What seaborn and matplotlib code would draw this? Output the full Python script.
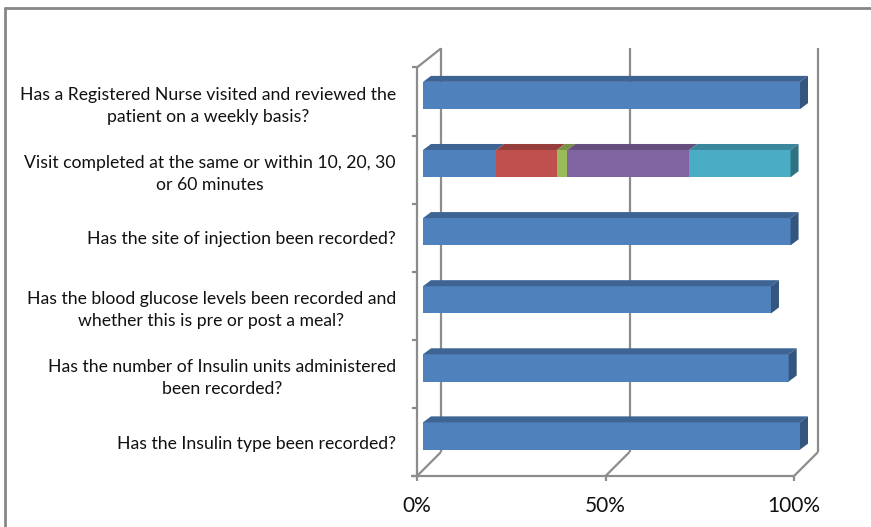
import numpy as np
import pandas as pd
import matplotlib
matplotlib.use("Agg")
import matplotlib.pyplot as plt
from matplotlib.patches import Polygon
from matplotlib.lines import Line2D
import seaborn as sns

questions = [
    "Has a Registered Nurse visited and reviewed the\npatient on a weekly basis?",
    "Visit completed at the same or within 10, 20, 30\nor 60 minutes",
    "Has the site of injection been recorded?",
    "Has the blood glucose levels been recorded and\nwhether this is pre or post a meal?",
    "Has the number of Insulin units administered\nbeen recorded?",
    "Has the Insulin type been recorded?",
]
series = ["Series 1", "Series 2", "Series 3", "Series 4", "Series 5"]
s1 = [100, 19.4, 97.5, 92.3, 97.0, 100]
s2 = [0, 16.1, 0, 0, 0, 0]
s3 = [0, 2.8, 0, 0, 0, 0]
s4 = [0, 32.3, 0, 0, 0, 0]
s5 = [0, 26.9, 0, 0, 0, 0]
x_ticks = [0, 50, 100]
x_tick_labels = ["0%", "50%", "100%"]

front_colors = ["#4F81BD", "#C0504D", "#9BBB59", "#8064A2", "#4BACC6"]
top_colors = ["#3D6493", "#963E3C", "#789146", "#634E7E", "#3A869A"]
side_colors = ["#34557D", "#7F3533", "#667B3B", "#54426B", "#317282"]
grid_color = "#8C8C8C"
text_color = "#111111"

df = pd.DataFrame({"question": questions, "Series 1": s1, "Series 2": s2,
                   "Series 3": s3, "Series 4": s4, "Series 5": s5})
cum = df[series].cumsum(axis=1)

sns.set_style("white")
plt.rcParams['font.family'] = ['Lato', 'DejaVu Sans']

W, H = 871, 527
fig = plt.figure(figsize=(W / 100, H / 100), dpi=100)
fig.patch.set_facecolor("white")

# pixel scale of the data coordinates
px_x = 3.77      # pixels per percent
px_y = 68.1      # pixels per category
x0_px = 423      # 0% of bar plane
y0_px = 95.5     # first bar centre
ax_left = 400
ax = fig.add_axes([ax_left / W, 0, (W - ax_left) / W, 1])

# stacked bars: cumulative totals, largest first
for i in range(len(series) - 1, -1, -1):
    sns.barplot(x=cum[series[i]], y=df["question"], orient="h", color=front_colors[i],
                saturation=1, width=0.4, ax=ax, zorder=2, linewidth=0, edgecolor="none")

ax.set_xlim((ax_left - x0_px) / px_x, (W - x0_px) / px_x)
ax.set_ylim((H - y0_px) / px_y, (0 - y0_px) / px_y)

# 3d geometry
DX, DY = 24 / px_x, -24 / px_y      # full depth of the floor
F = 0.25                            # depth of bar front face
BX, BY = 8 / px_x, -6 / px_y        # depth of the bars
fx, fy = -F * DX, -F * DY
n = len(questions)
y_top_f = -0.5 + fy
y_bot_f = n - 0.5 + fy
y_top_b = y_top_f - 19 / px_y
y_bot_b = y_bot_f + DY
gl = dict(color=grid_color, lw=1.6, zorder=1, solid_capstyle="butt")

# back wall verticals and floor diagonals
for t in x_ticks:
    ax.plot([t + fx + DX, t + fx + DX], [y_bot_b, y_top_b], **gl)
    ax.plot([t + fx, t + fx + DX], [y_bot_f, y_bot_b], **gl)
    ax.plot([t + fx, t + fx], [y_bot_f, y_bot_f + 5 / px_y], **gl)
# front floor edge
ax.plot([fx - 1.5, 100 + fx], [y_bot_f, y_bot_f], **gl)
# left wall
ax.plot([fx, fx], [y_bot_f, y_top_f], **gl)
ax.plot([fx, fx + DX], [y_top_f, y_top_b], **gl)
for k in range(n + 1):
    yk = k - 0.5 + fy
    ax.plot([fx - 5 / px_x, fx], [yk, yk], **gl)

# top and side faces of the bars
h = 0.2
for r in range(n):
    left = 0
    last = None
    for i, s in enumerate(series):
        v = df.loc[r, s]
        if v <= 0:
            continue
        right = left + v
        top = [(left, r - h), (right, r - h), (right + BX, r - h + BY), (left + BX, r - h + BY)]
        ax.add_patch(Polygon(top, closed=True, facecolor=top_colors[i], edgecolor="none", zorder=3))
        last = (right, i)
        left = right
    if last is not None:
        right, i = last
        side = [(right, r - h), (right + BX, r - h + BY), (right + BX, r + h + BY), (right, r + h)]
        ax.add_patch(Polygon(side, closed=True, facecolor=side_colors[i], edgecolor="none", zorder=3))

# category labels
ax.set_yticks([r + fy for r in range(n)])
ax.set_yticklabels(questions, fontsize=12.7, color=text_color)
for t in ax.get_yticklabels():
    t.set_multialignment("center")
    t.set_linespacing(1.45)
ax.tick_params(axis="y", length=0, pad=3)
ax.set_xticks([])
ax.set_xlabel("")
ax.set_ylabel("")
for sp in ax.spines.values():
    sp.set_visible(False)
ax.patch.set_alpha(0)

# percentage labels
for t, lab in zip(x_ticks, x_tick_labels):
    ax.text(t + fx, y_bot_f + 30 / px_y, lab, ha="center", va="center",
            fontsize=15, color=text_color)

# chart area border
fig.add_artist(Line2D([5 / W, 5 / W], [0, 1 - 8 / H], color="#868686", lw=2))
fig.add_artist(Line2D([5 / W, 1], [1 - 8 / H, 1 - 8 / H], color="#868686", lw=2))

fig.savefig("out.png", dpi=100, facecolor="white")
